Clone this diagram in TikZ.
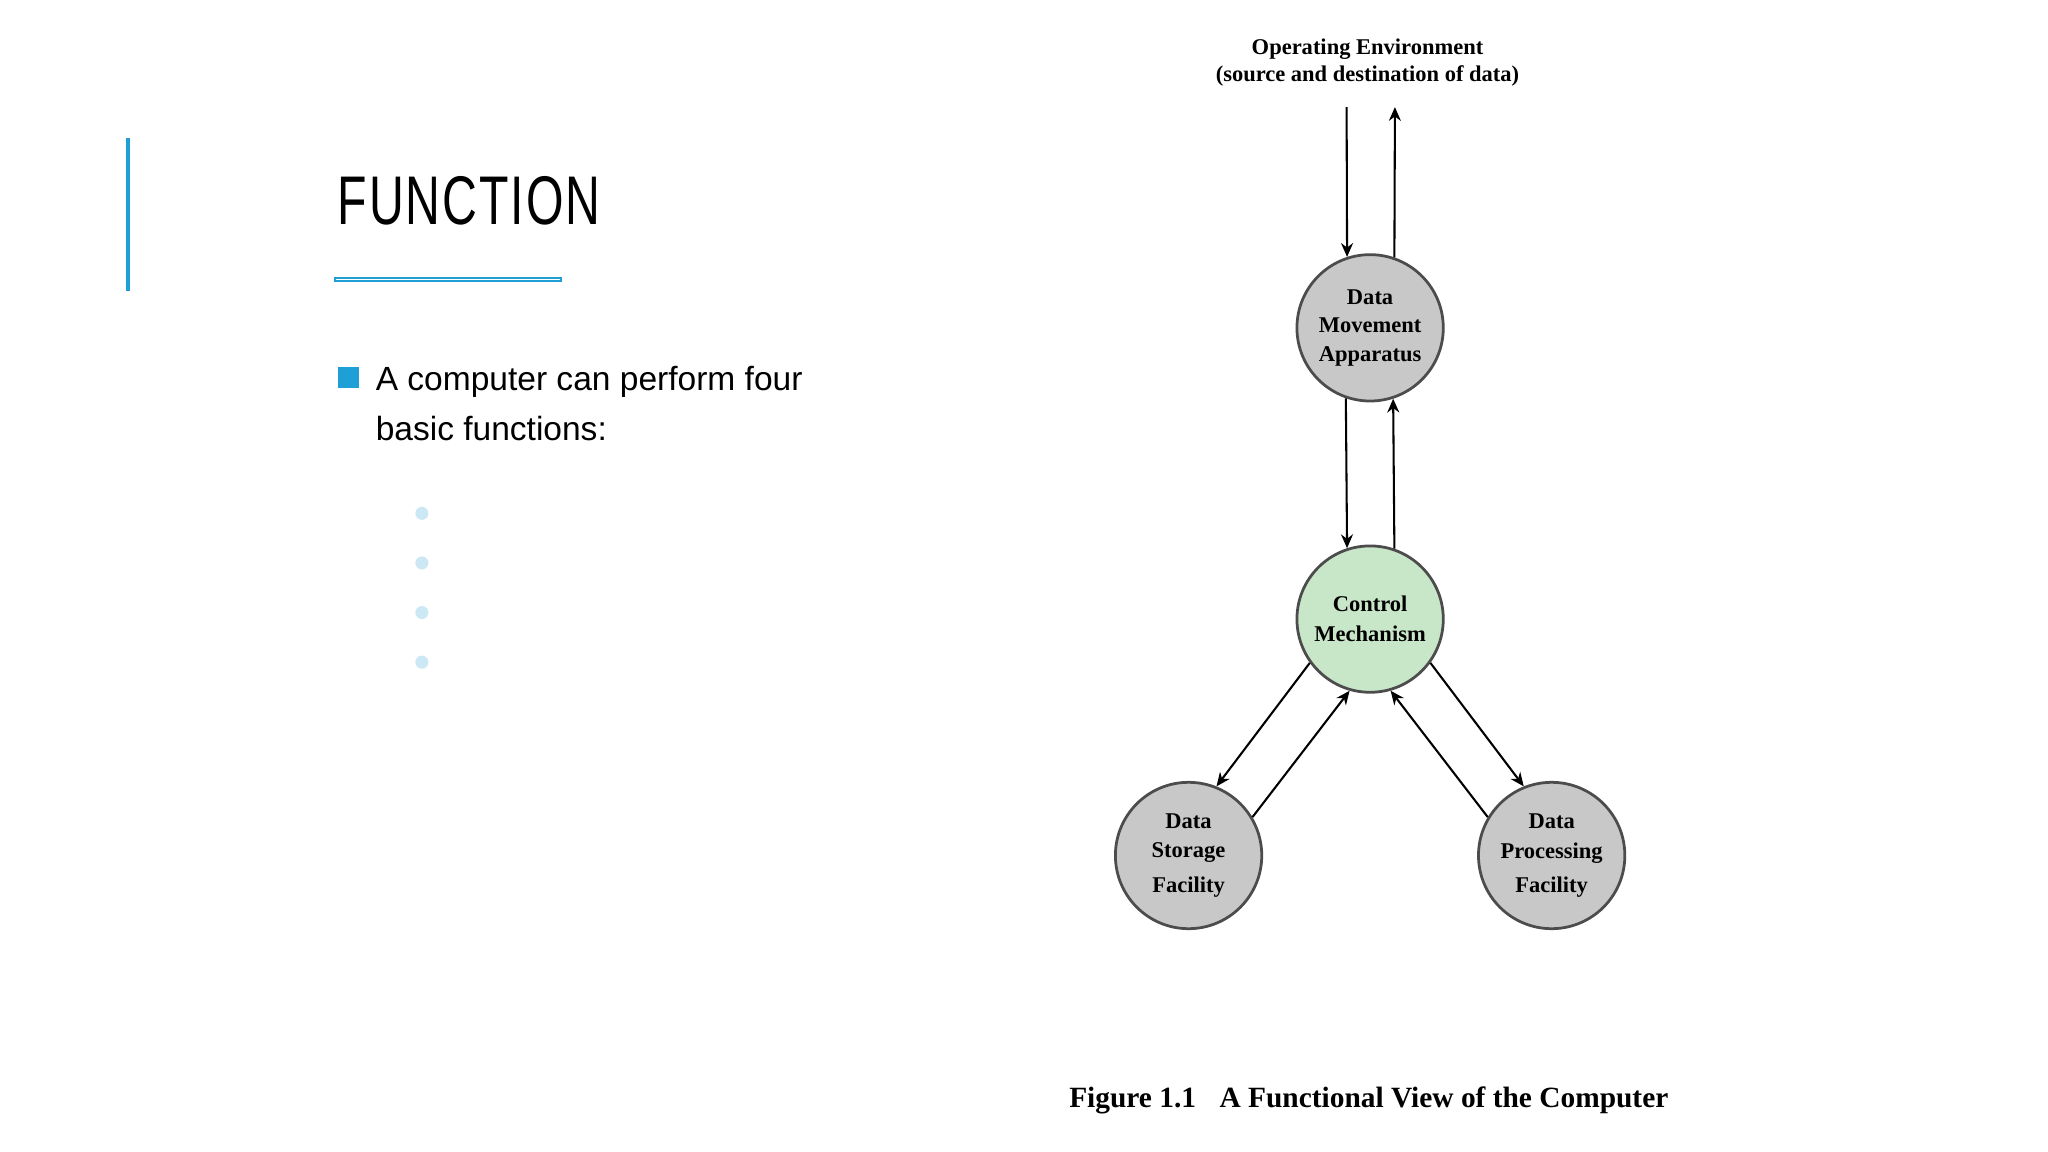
\documentclass[tikz,border=0pt]{standalone}
\usepackage{fontspec}
\setmainfont{Liberation Serif}
\newfontfamily\sans{Liberation Sans}
\usetikzlibrary{arrows.meta}
\definecolor{accent}{RGB}{30,160,215}
\definecolor{dotc}{RGB}{205,232,245}
\definecolor{grayc}{RGB}{200,200,200}
\definecolor{greenc}{RGB}{200,230,200}
\tikzset{
 unit/.style={circle,draw=black!70,line width=0.6pt,minimum size=1.12cm,inner sep=0pt,align=center,font=\fontsize{4.9}{6}\selectfont\bfseries},
 flow/.style={-{Stealth[length=3pt,width=2.6pt]},line width=0.45pt},
 lbl/.style={font=\fontsize{4.9}{6}\selectfont\bfseries,align=center}
}
\begin{document}
\begin{tikzpicture}[x=0.01cm,y=-0.01cm]
\useasboundingbox[fill=white] (0,0) rectangle (1568,882);
% left side
\draw[accent,line width=0.7pt] (98,106) -- (98,223);
\node[anchor=base west,inner sep=0pt,font=\sans\fontsize{15}{15}\selectfont,xscale=0.7] (title) at (258,172) {F\kern0.6pt U\kern0.6pt N\kern0.6pt C\kern0.6pt T\kern0.6pt I\kern0.6pt O\kern0.6pt N};
\draw[accent,line width=1.1pt] (256,214) -- (430,214);
\draw[white,line width=0.3pt] (257,214) -- (429,214);
\node[fill=accent,minimum size=0.16cm,inner sep=0pt] (sq) at (267,289) {};
\node[anchor=north west,inner sep=0pt,align=left,font=\sans\fontsize{7.3}{10.8}\selectfont] (txt) at (287,280) {A computer can perform four\\basic functions:};
\foreach \y/\n in {393/a,431/b,469/c,507/d} \fill[dotc] (323,\y) circle (5);
% diagram
\node[lbl] (env) at (1047,48) {Operating Environment\\(source and destination of data)};
\node[unit,fill=grayc] (dma) at (1049,251) {\raisebox{-4pt}{\shortstack{Data\\Movement\\Apparatus}}};
\node[unit,fill=greenc] (ctl) at (1049,474) {\raisebox{-3pt}{\shortstack{Control\\Mechanism}}};
\node[unit,fill=grayc] (sto) at (910,655) {\raisebox{-4pt}{\shortstack{Data\\Storage\\Facility}}};
\node[unit,fill=grayc] (pro) at (1188,655) {\raisebox{-4pt}{\shortstack{Data\\Processing\\Facility}}};
\coordinate (e1) at (1031,82);
\coordinate (e2) at (1068,82);
\draw[flow] (e1) -- (dma.108.75);
\draw[flow] (dma.71.25) -- (e2);
\draw[flow] (dma.251.25) -- (ctl.108.75);
\draw[flow] (ctl.71.25) -- (dma.288.75);
\draw[flow] (ctl.216) -- (sto.68);
\draw[flow] (sto.31) -- (ctl.254);
\draw[flow] (ctl.324) -- (pro.112);
\draw[flow] (pro.149) -- (ctl.286);
\node[anchor=base,font=\fontsize{6.4}{8}\selectfont\bfseries] (cap) at (1048,848) {Figure 1.1\hspace{0.8em}A Functional View of the Computer};
\end{tikzpicture}
\end{document}
